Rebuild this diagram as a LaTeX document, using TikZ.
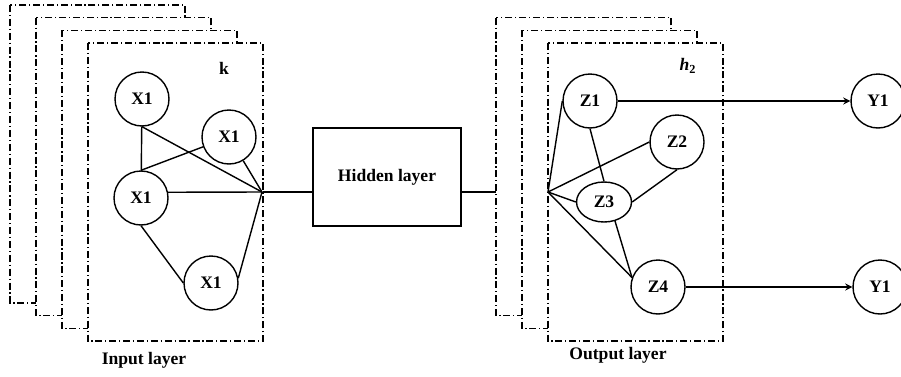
\documentclass[tikz,border=0pt]{standalone}
\usepackage{fontspec}
\setmainfont{Liberation Serif}
\usetikzlibrary{shapes,positioning}
\tikzset{neu/.style={circle,draw,minimum size=1.08cm,inner sep=0pt}}
\tikzset{frm/.style={draw,fill=white,dash pattern=on 4pt off 1.6pt on 0.7pt off 1.6pt}}
\tikzset{hid/.style={rectangle,draw,minimum width=2.96cm,minimum height=1.96cm}}

\begin{document}
\begin{tikzpicture}[>=stealth,x=0.02cm,y=-0.02cm,line width=0.8pt,
    every node/.append style={font=\fontsize{10}{12}\selectfont\bfseries}]
    \useasboundingbox (0,0) rectangle (901,376);

    \node[hid] (hl) at (387,177) {Hidden layer};
    \coordinate (jin) at (262,192);
    \coordinate (jout) at (548,192);
    \draw [] (jin) to [] (jin -| hl.west);
    \draw [] (hl.east |- jout) to [] (jout);

    % stacked frames
    \foreach \i in {0,...,3}
        \draw[frm] (10+26*\i,5+12.7*\i) rectangle ++(175,298);
    \foreach \i in {1,...,3}
        \draw[frm] (470+26*\i,5+12.7*\i) rectangle ++(175,298);

    \node (k) at (224,68) {k};
    \node (h2) at (688,66) {\textit{h}\textsubscript{2}};
    \node (inl) at (144,360) {Input layer};
    \node (outl) at (618,355) {Output layer};

    \node[neu] (xa) at (142,99) {X1};
    \node[neu] (xb) at (229,137) {X1};
    \node[neu] (xc) at (141,198) {X1};
    \node[neu] (xd) at (211,283) {X1};

    \node[neu] (za) at (590,101) {Z1};
    \node[neu] (zb) at (677,142) {Z2};
    \node[ellipse,draw,minimum width=1.1cm,minimum height=0.8cm,inner sep=0pt] (zc) at (604,202) {Z3};
    \node[neu] (zd) at (658,287) {Z4};

    \node[neu] (ya) at (878,101) {Y1};
    \node[neu] (yb) at (880,287) {Y1};

    \draw [] (xa) to [] (xc);
    \draw [] (xa.south) to [] (jin);
    \draw [] (xc.north) to [] (xb);
    \draw [] (xb) to [] (jin);
    \draw [] (xc.12) to [] (jin);
    \draw [] (xc.south) to [] (xd.west);
    \draw [] (xd.10) to [] (jin);

    \draw [] (jout) to [] (za.west);
    \draw [] (jout) to [] (zb.west);
    \draw [] (jout) to [] (zc.west);
    \draw [] (jout) to [] (zd.160);
    \draw [] (za.south) to [] (zc.north);
    \draw [] (zc.east) to [] (zb.south);
    \draw [] (zc.-60) to [] (zd.160);
    \draw [->] (za.east) to [] (ya.west);
    \draw [->] (zd.east) to [] (yb.west);
\end{tikzpicture}
\end{document}
